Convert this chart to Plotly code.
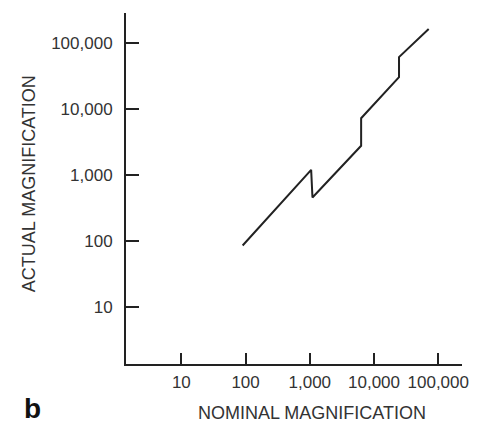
import plotly.graph_objects as go

# Data (log-log)
nominal_mag = [90, 1050, 1100, 6300, 6300, 24500, 24500, 71000]
actual_mag = [85, 1190, 453, 2750, 7200, 30200, 60500, 161000]

x_tickvals = [10, 100, 1000, 10000, 100000]
x_ticktext = ["10", "100", "1,000", "10,000", "100,000"]
y_tickvals = [10, 100, 1000, 10000, 100000]
y_ticktext = ["10", "100", "1,000", "10,000", "100,000"]

FONT = "Liberation Sans, Arial, Helvetica, sans-serif"
TXT = "#333333"
INK = "#222222"

fig = go.Figure()
fig.add_trace(go.Scatter(
    x=nominal_mag, y=actual_mag, mode="lines",
    line=dict(color=INK, width=2), showlegend=False, hoverinfo="skip",
))

fig.update_layout(
    width=481, height=425,
    margin=dict(l=126, r=15, t=13, b=61),
    paper_bgcolor="white", plot_bgcolor="white",
    font=dict(family=FONT, size=18, color=TXT),
    xaxis=dict(
        type="log", range=[0.138, 5.37],
        tickvals=x_tickvals, ticktext=x_ticktext,
        ticks="inside", ticklen=11, tickwidth=1.5, tickcolor=INK,
        showline=True, linewidth=2, linecolor=INK,
        showgrid=False, zeroline=False,
        tickfont=dict(size=17, color=TXT),
        ticklabelstandoff=2,
    ),
    yaxis=dict(
        type="log", range=[0.136, 5.45],
        tickvals=y_tickvals, ticktext=y_ticktext,
        ticks="inside", ticklen=13, tickwidth=1.5, tickcolor=INK,
        showline=True, linewidth=2, linecolor=INK,
        showgrid=False, zeroline=False,
        tickfont=dict(size=17, color=TXT),
        ticklabelstandoff=8,
    ),
    annotations=[
        dict(text="NOMINAL MAGNIFICATION", xref="paper", yref="paper",
             x=(314 - 126) / 340, y=-(413 - 364) / 351,
             xanchor="center", yanchor="middle", showarrow=False,
             font=dict(size=18, color=TXT)),
        dict(text="ACTUAL MAGNIFICATION", xref="paper", yref="paper",
             x=-(126 - 28) / 340, y=(364 - 184) / 351, textangle=-90,
             xanchor="center", yanchor="middle", showarrow=False,
             font=dict(size=18, color=TXT)),
        dict(text="<b>b</b>", xref="paper", yref="paper",
             x=-(126 - 31) / 340, y=-(408 - 364) / 351,
             xanchor="center", yanchor="middle", showarrow=False,
             font=dict(size=28, color="#111111")),
    ],
)

fig.write_html(
    "out.html",
    config={"displayModeBar": False},
    post_script="document.body.style.margin='0';document.body.style.overflow='hidden';",
)
